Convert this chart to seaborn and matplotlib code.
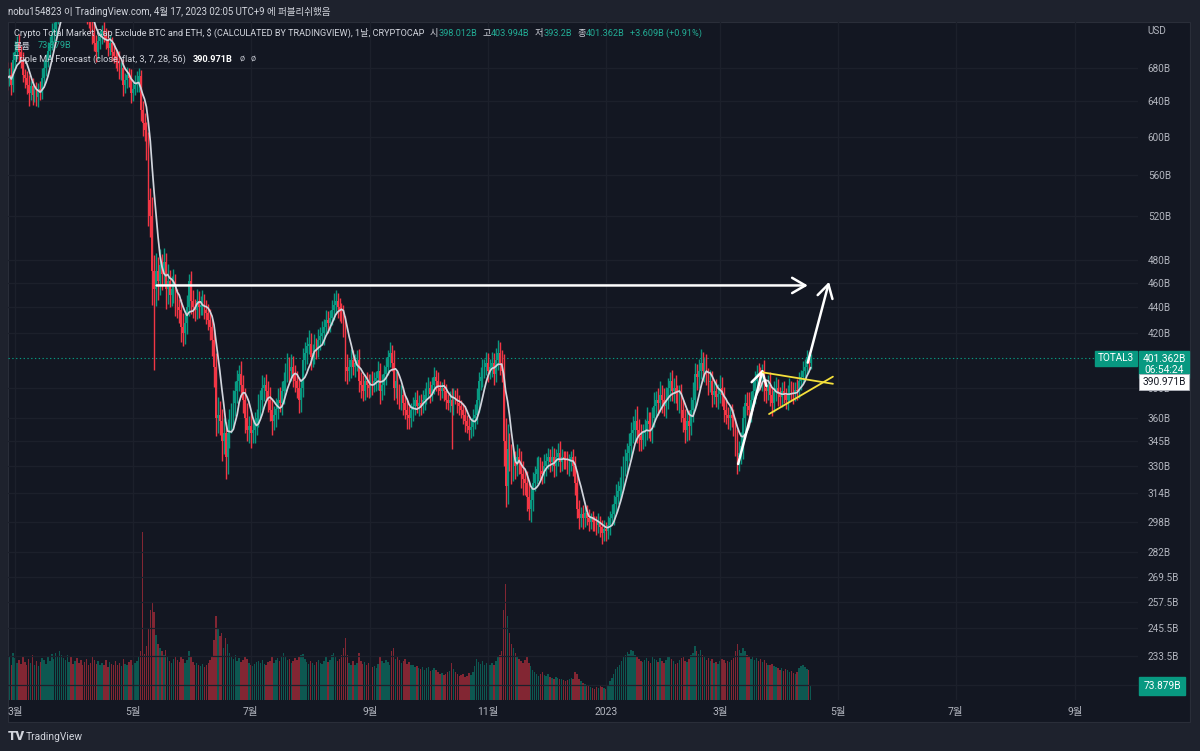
import numpy as np
import pandas as pd
import matplotlib
matplotlib.use("Agg")
import matplotlib.pyplot as plt
import matplotlib.dates as mdates
from matplotlib.patches import Rectangle
from matplotlib.ticker import FixedLocator, FixedFormatter, NullLocator
import seaborn as sns

sns.set_theme(style="dark")
plt.rcParams["font.family"] = ["Roboto", "Noto Sans CJK KR", "DejaVu Sans"]

W, H = 1200, 751
BG = "#131722"
FRAME = "#1e222d"
TXT = "#b2b5be"
UP = "#089981"
DN = "#f23645"
GRID = "#1c202b"

# ---------------- data (daily, from start_date) ----------------
start_date = "2022-02-25"
first_open = 676.0
close = [
    668, 672, 660, 690, 700, 712, 700, 690, 672, 668,
    660, 650, 658, 648, 652, 645, 655, 650, 668, 680,
    690, 702, 712, 725, 730, 745, 752, 765, 780, 790,
    795, 805, 812, 808, 800, 810, 798, 785, 770, 760,
    755, 748, 742, 738, 725, 712, 700, 715, 720, 728,
    722, 716, 705, 712, 700, 695, 690, 688, 675, 680,
    660, 665, 672, 668, 650, 655, 660, 662, 670, 630,
    615, 608, 590, 535, 520, 470, 455, 470, 462, 475,
    468, 478, 455, 462, 450, 455, 460, 445, 440, 438,
    425, 420, 428, 440, 462, 445, 440, 438, 445, 440,
    442, 445, 438, 436, 430, 425, 415, 395, 360, 362,
    358, 345, 350, 335, 350, 358, 360, 370, 378, 385,
    390, 382, 372, 360, 352, 355, 350, 352, 356, 360,
    368, 372, 380, 382, 378, 372, 365, 358, 362, 366,
    372, 370, 378, 385, 390, 395, 392, 395, 390, 385,
    380, 372, 380, 400, 405, 410, 412, 402, 405, 410,
    408, 415, 418, 420, 425, 430, 428, 432, 438, 442,
    445, 440, 438, 435, 425, 395, 392, 395, 400, 395,
    398, 400, 385, 382, 378, 385, 382, 380, 385, 383,
    385, 387, 392, 378, 382, 390, 395, 402, 405, 398,
    380, 385, 378, 372, 375, 370, 365, 362, 360, 365,
    368, 372, 368, 370, 368, 372, 375, 378, 380, 376,
    382, 388, 385, 380, 378, 380, 378, 372, 370, 372,
    368, 375, 374, 370, 368, 365, 362, 358, 355, 352,
    354, 360, 362, 372, 385, 388, 392, 395, 398, 392,
    395, 398, 390, 400, 405, 398, 392, 345, 318, 340,
    335, 328, 332, 330, 335, 332, 325, 322, 320, 312,
    305, 310, 320, 325, 328, 330, 327, 325, 330, 333,
    335, 332, 335, 330, 335, 338, 332, 335, 334, 333,
    330, 332, 335, 330, 320, 305, 300, 302, 300, 303,
    300, 298, 300, 298, 297, 296, 298, 295, 292, 294,
    293, 296, 300, 302, 308, 312, 315, 318, 322, 330,
    333, 338, 342, 350, 352, 358, 352, 348, 346, 350,
    352, 358, 356, 352, 360, 368, 372, 370, 375, 372,
    368, 372, 380, 385, 378, 380, 376, 372, 375, 365,
    360, 352, 358, 355, 365, 372, 390, 388, 392, 398,
    392, 395, 388, 384, 385, 375, 378, 374, 376, 380,
    375, 365, 362, 360, 362, 360, 355, 345, 335, 338,
    342, 360, 370, 368, 365, 372, 378, 385, 390, 388,
    385, 392, 380, 378, 382, 375, 370, 378, 380, 376,
    374, 378, 375, 372, 376, 380, 378, 376, 379, 378,
    385, 388, 392, 395, 402, 398.012, 401.362,
]
upper_wick = [
    12, 8, 15, 10, 14, 9, 12, 8, 10, 7,
    9, 12, 6, 10, 8, 11, 7, 9, 12, 10,
    8, 11, 9, 13, 10, 12, 8, 14, 10, 12,
    10, 12, 9, 14, 11, 8, 12, 10, 9, 13,
    10, 8, 12, 9, 11, 14, 10, 12, 9, 8,
    11, 9, 13, 10, 8, 12, 9, 10, 14, 8,
    12, 9, 10, 8, 11, 9, 12, 14, 10, 8,
    10, 12, 9, 15, 12, 18, 14, 16, 12, 14,
    10, 12, 8, 14, 9, 11, 12, 8, 10, 7,
    9, 11, 8, 10, 6, 8, 9, 7, 10, 8,
    7, 9, 6, 8, 7, 9, 6, 8, 10, 12,
    9, 8, 10, 7, 9, 8, 10, 9, 7, 8,
    6, 9, 7, 8, 10, 6, 9, 7, 8, 6,
    8, 7, 9, 6, 8, 7, 9, 8, 6, 7,
    8, 9, 7, 6, 8, 10, 7, 9, 8, 6,
    7, 8, 6, 9, 8, 7, 10, 8, 7, 9,
    6, 8, 7, 9, 6, 8, 7, 6, 8, 10,
    9, 7, 8, 6, 7, 8, 9, 6, 8, 7,
    6, 7, 8, 6, 7, 5, 6, 8, 5, 7,
    6, 5, 7, 6, 8, 6, 7, 5, 8, 6,
    9, 7, 6, 5, 7, 6, 5, 7, 6, 5,
    6, 5, 7, 5, 6, 7, 5, 6, 8, 5,
    6, 7, 5, 6, 5, 4, 6, 5, 4, 6,
    8, 5, 4, 6, 5, 4, 5, 6, 4, 5,
    5, 6, 7, 8, 6, 7, 9, 6, 8, 7,
    6, 8, 7, 9, 10, 8, 9, 12, 15, 16,
    10, 8, 9, 7, 8, 6, 7, 8, 6, 7,
    8, 7, 6, 5, 7, 6, 5, 6, 7, 5,
    6, 5, 7, 6, 5, 6, 7, 5, 4, 5,
    6, 5, 4, 5, 6, 7, 5, 4, 5, 4,
    4, 5, 3, 4, 3, 4, 5, 3, 4, 5,
    4, 5, 4, 6, 5, 7, 6, 5, 8, 6,
    7, 6, 8, 7, 9, 8, 10, 7, 8, 6,
    7, 9, 6, 8, 7, 9, 6, 8, 10, 7,
    8, 9, 7, 6, 8, 7, 9, 6, 7, 8,
    7, 6, 8, 7, 9, 12, 8, 7, 9, 10,
    8, 7, 9, 6, 8, 7, 6, 8, 7, 9,
    8, 6, 7, 5, 6, 7, 6, 5, 8, 7,
    9, 8, 6, 7, 9, 6, 8, 7, 6, 8,
    7, 5, 8, 6, 7, 9, 6, 7, 8, 6,
    5, 6, 7, 5, 6, 7, 5, 6, 5, 7,
    6, 5, 7, 6, 5, 4, 2.632,
]
lower_wick = [
    14, 10, 12, 9, 11, 8, 13, 10, 9, 12,
    11, 15, 8, 12, 9, 10, 11, 8, 7, 9,
    10, 8, 11, 9, 12, 10, 8, 11, 9, 10,
    12, 9, 11, 8, 10, 12, 9, 11, 10, 8,
    9, 11, 10, 12, 14, 10, 12, 9, 11, 10,
    9, 12, 10, 8, 11, 9, 10, 12, 8, 10,
    14, 10, 9, 11, 12, 10, 8, 9, 11, 12,
    14, 12, 15, 25, 20, 28, 62, 14, 16, 12,
    14, 10, 16, 12, 10, 9, 11, 12, 8, 10,
    12, 10, 8, 9, 7, 10, 8, 9, 7, 8,
    6, 8, 7, 9, 8, 10, 12, 14, 12, 10,
    9, 12, 8, 13, 10, 9, 8, 7, 9, 8,
    7, 8, 9, 10, 7, 8, 9, 6, 8, 7,
    6, 8, 7, 9, 6, 8, 7, 9, 6, 8,
    7, 6, 8, 9, 7, 6, 8, 7, 9, 8,
    7, 9, 8, 6, 7, 8, 6, 9, 7, 8,
    7, 6, 8, 7, 9, 6, 8, 7, 6, 8,
    7, 8, 9, 7, 8, 10, 9, 7, 8, 6,
    7, 6, 8, 9, 7, 6, 8, 7, 6, 8,
    6, 7, 8, 9, 6, 7, 8, 6, 7, 6,
    8, 7, 9, 6, 7, 8, 6, 9, 7, 6,
    7, 6, 5, 7, 6, 5, 7, 6, 5, 6,
    5, 6, 7, 5, 6, 5, 7, 6, 5, 6,
    28, 6, 5, 7, 6, 5, 6, 7, 5, 6,
    5, 6, 7, 6, 8, 6, 7, 5, 6, 8,
    6, 7, 8, 6, 7, 9, 8, 15, 12, 10,
    8, 9, 7, 8, 6, 7, 8, 9, 7, 8,
    6, 7, 6, 5, 6, 7, 5, 6, 5, 6,
    5, 6, 5, 7, 6, 5, 6, 5, 6, 5,
    5, 6, 5, 6, 7, 5, 6, 5, 6, 5,
    4, 5, 4, 5, 4, 5, 4, 5, 6, 4,
    5, 4, 5, 4, 6, 5, 4, 6, 5, 6,
    6, 7, 5, 8, 6, 7, 8, 9, 7, 6,
    8, 6, 9, 7, 8, 6, 7, 8, 6, 9,
    7, 8, 6, 9, 7, 8, 6, 7, 9, 8,
    9, 8, 7, 9, 6, 8, 7, 9, 8, 6,
    7, 8, 6, 9, 7, 8, 6, 7, 8, 6,
    7, 8, 6, 7, 8, 6, 7, 9, 10, 8,
    7, 8, 9, 6, 7, 8, 6, 9, 7, 8,
    6, 7, 9, 8, 6, 7, 9, 6, 7, 8,
    6, 7, 5, 6, 7, 5, 6, 7, 5, 6,
    5, 6, 5, 7, 6, 5, 4.812,
]
volume = [
    210, 235, 190, 250, 225, 200, 215, 195, 230, 205,
    185, 220, 200, 240, 190, 210, 180, 205, 225, 215,
    195, 230, 210, 245, 220, 250, 235, 260, 240, 225,
    215, 240, 205, 230, 195, 210, 225, 200, 215, 190,
    205, 220, 185, 200, 230, 215, 195, 210, 185, 200,
    190, 215, 175, 205, 195, 185, 210, 190, 200, 180,
    220, 195, 185, 205, 215, 190, 200, 210, 230, 260,
    900, 245, 290, 380, 480, 520, 470, 350, 300, 280,
    260, 240, 270, 230, 210, 200, 220, 230, 215, 205,
    235, 220, 200, 215, 260, 230, 205, 190, 200, 185,
    180, 195, 175, 190, 200, 215, 230, 320, 450, 380,
    340, 360, 280, 330, 300, 250, 230, 220, 240, 210,
    225, 205, 215, 230, 220, 200, 190, 180, 195, 205,
    210, 200, 215, 195, 185, 205, 210, 230, 200, 215,
    225, 210, 235, 250, 230, 215, 220, 200, 210, 225,
    215, 230, 240, 245, 220, 205, 195, 210, 200, 190,
    205, 215, 200, 195, 210, 230, 205, 215, 240, 250,
    235, 210, 220, 240, 280, 330, 240, 200, 190, 210,
    185, 200, 250, 210, 195, 205, 190, 200, 185, 175,
    180, 170, 195, 230, 210, 200, 215, 205, 190, 260,
    280, 220, 230, 215, 200, 210, 220, 195, 205, 190,
    185, 175, 180, 170, 165, 175, 160, 170, 175, 155,
    160, 170, 160, 150, 140, 145, 135, 140, 150, 155,
    200, 165, 150, 140, 130, 135, 140, 125, 130, 145,
    135, 150, 180, 220, 205, 195, 210, 190, 200, 185,
    185, 200, 190, 210, 230, 240, 260, 480, 620, 450,
    360, 300, 280, 250, 230, 220, 210, 200, 215, 230,
    200, 180, 160, 150, 140, 130, 140, 150, 135, 130,
    140, 125, 120, 115, 125, 120, 115, 110, 105, 100,
    105, 115, 120, 115, 150, 140, 115, 100, 90, 85,
    80, 75, 70, 65, 60, 70, 65, 75, 70, 65,
    60, 80, 100, 120, 140, 165, 175, 190, 210, 230,
    240, 255, 245, 270, 260, 240, 230, 220, 210, 205,
    215, 225, 210, 200, 230, 220, 215, 205, 225, 210,
    200, 215, 230, 235, 220, 210, 195, 200, 215, 225,
    230, 210, 205, 220, 240, 250, 290, 260, 245, 270,
    240, 230, 215, 225, 210, 220, 200, 205, 195, 210,
    220, 215, 200, 210, 205, 215, 225, 260, 300, 270,
    250, 280, 260, 240, 235, 220, 230, 215, 225, 210,
    220, 205, 215, 200, 190, 185, 195, 180, 175, 170,
    160, 170, 155, 165, 160, 150, 155, 145, 140, 150,
    170, 180, 190, 175, 165, 160, 73.879,
]

ma_value_label = 390.971
price_ticks = [221.5, 233.5, 245.5, 257.5, 269.5, 282, 298, 314, 330, 345,
               360, 380, 420, 440, 460, 480, 520, 560, 600, 640, 680]
price_tick_labels = ["221.5B", "233.5B", "245.5B", "257.5B", "269.5B", "282B",
                     "298B", "314B", "330B", "345B", "360B", "380B", "420B",
                     "440B", "460B", "480B", "520B", "560B", "600B", "640B", "680B"]
month_ticks = ["2022-03-01", "2022-05-01", "2022-07-01", "2022-09-01", "2022-11-01",
               "2023-01-01", "2023-03-01", "2023-05-01", "2023-07-01", "2023-09-01"]
month_labels = ["3월", "5월", "7월", "9월", "11월", "2023", "3월", "5월", "7월", "9월"]

# drawings (date, value)
h_arrow = [("2022-05-13 06:00", 458.0), ("2023-04-15 12:00", 458.0)]
up_arrow = [("2023-04-15 12:00", 398.0), ("2023-04-26 12:00", 461.0)]
small_arrow = [("2023-03-10 10:00", 331.0), ("2023-03-23 07:00", 393.5)]
tri_upper = [("2023-03-23 07:00", 391.0), ("2023-04-28 12:00", 383.0)]
tri_lower = [("2023-03-26 10:00", 362.5), ("2023-04-28 12:00", 388.0)]

# ---------------- frame ----------------
dates = pd.date_range(start_date, periods=len(close), freq="D")
df = pd.DataFrame({"date": dates, "close": close,
                   "uw": upper_wick, "lw": lower_wick, "vol": volume})
df["open"] = [first_open] + close[:-1]
df["high"] = df[["open", "close"]].max(axis=1) + df["uw"]
df["low"] = df[["open", "close"]].min(axis=1) - df["lw"]
df["up"] = df["close"] >= df["open"]
df["ma"] = df["close"].rolling(7, min_periods=1).mean()
xnum = mdates.date2num(df["date"])

fig = plt.figure(figsize=(W / 100, H / 100), dpi=100, facecolor=FRAME)
fig.patches.append(Rectangle((8 / W, 1 - 722 / H), 1182 / W, 700 / H,
                             transform=fig.transFigure, facecolor=BG,
                             edgecolor="#2a2e39", lw=0.8, zorder=0))

pos = [8 / W, 1 - 700 / H, 1130 / W, 678 / H]
ax = fig.add_axes(pos)
ax_v = ax.twinx()
ax.set_zorder(2)
ax.patch.set_visible(False)
ax_v.set_zorder(1)
ax_v.patch.set_facecolor(BG)

x0 = mdates.date2num(pd.Timestamp(start_date))
ax.set_xlim(x0 + 0.3, x0 + 585.5)
ax.set_yscale("log")
ax.set_ylim(215.5, 739.5)

# volume
vcol = [UP if u else DN for u in df["up"]]
ax_v.bar(xnum, df["vol"], width=0.75, color=vcol, alpha=0.5, linewidth=0)
ax_v.set_ylim(0, 3630)
ax_v.set_yticks([])
for s in ax_v.spines.values():
    s.set_visible(False)

# candles
ccol = np.array(vcol)
ax.vlines(xnum, df["low"], df["high"], colors=ccol, lw=1.0, zorder=3)
ax.bar(xnum, (df["close"] - df["open"]).abs().clip(lower=0.6),
       bottom=df[["open", "close"]].min(axis=1), width=0.85,
       color=ccol, linewidth=0, zorder=3)

# MA line
sns.lineplot(x=df["date"], y=df["ma"], ax=ax, color="#d1d4dc", lw=1.25,
             zorder=4, legend=False)
ax.set_xlabel("")
ax.set_ylabel("")

# last price line
ax.axhline(close[-1], color=UP, lw=0.8, ls=(0, (1.2, 2.2)), zorder=2)

# drawings
def arrow(pts, color="white"):
    (d0, v0), (d1, v1) = pts
    ax.annotate("", xy=(mdates.date2num(pd.Timestamp(d1)), v1),
                xytext=(mdates.date2num(pd.Timestamp(d0)), v0),
                arrowprops=dict(arrowstyle="->,head_length=0.95,head_width=0.55",
                                color=color, lw=1.8, shrinkA=0, shrinkB=0,
                                mutation_scale=10), zorder=6)

arrow(h_arrow)
arrow(up_arrow)
arrow(small_arrow)
for seg in (tri_upper, tri_lower):
    ax.plot([pd.Timestamp(seg[0][0]), pd.Timestamp(seg[1][0])],
            [seg[0][1], seg[1][1]], color="#f5e03b", lw=1.3, zorder=6)

# axes styling
for s in ax.spines.values():
    s.set_visible(False)
ax.yaxis.tick_right()
ax.yaxis.set_major_locator(FixedLocator(price_ticks))
ax.yaxis.set_major_formatter(FixedFormatter(price_tick_labels))
ax.yaxis.set_minor_locator(NullLocator())
ax.set_xticks(mdates.date2num(pd.to_datetime(month_ticks)))
ax.set_xticklabels(month_labels)
ax.tick_params(axis="y", length=0, pad=7, labelsize=7.2, labelcolor=TXT)
ax.tick_params(axis="x", length=0, pad=5, labelsize=7.5, labelcolor=TXT)
ax.grid(True, color=GRID, lw=0.9)
ax_v.grid(False)

# right-side labels (drawn on the top axes so they cover tick labels)
yt = ax.get_yaxis_transform()
ax.text(0.9805, close[-1], "TOTAL3", transform=yt, ha="center", va="center",
        fontsize=7.2, color="white", zorder=8,
        bbox=dict(boxstyle="square,pad=0.25", fc=UP, ec=UP))
ax.annotate("401.362B\n06:54:24", xy=(1.0230, close[-1]), xycoords=yt,
            xytext=(0, -4.6), textcoords="offset points", ha="center", va="center",
            fontsize=7.3, color="white", linespacing=1.05, annotation_clip=False,
            bbox=dict(boxstyle="square,pad=0.3", fc=UP, ec=UP), zorder=8)
ax.annotate(f"{ma_value_label:.3f}B", xy=(1.0230, close[-1]), xycoords=yt,
            xytext=(0, -17.3), textcoords="offset points", ha="center", va="center",
            fontsize=7.3, color="#131722", annotation_clip=False,
            bbox=dict(boxstyle="square,pad=0.3", fc="white", ec="#b2b5be", lw=0.6),
            zorder=8)
ax.annotate(f"{volume[-1]:.3f}B", xy=(1.0212, volume[-1]),
            xycoords=ax_v.get_yaxis_transform(), ha="center", va="center",
            fontsize=7.3, color="white", annotation_clip=False,
            bbox=dict(boxstyle="square,pad=0.4", fc=UP, ec=UP), zorder=8)
fig.text(1147 / W, 1 - 31 / H, "USD", fontsize=7.2, color=TXT, ha="left", va="center")

# header texts
fig.text(8 / W, 1 - 12 / H,
         "nobu154823 이 TradingView.com, 4월 17, 2023 02:05 UTC+9 에 퍼블리쉬했음",
         fontsize=6.9, color="#d1d4dc", ha="left", va="center")


def chain_text(x, y, parts, size=6.6):
    prev = fig.text(x, y, parts[0][0], color=parts[0][1], fontsize=size,
                    ha="left", va="center", zorder=9)
    for p in parts[1:]:
        prev = ax.annotate(
            p[0], xy=(1, 0), xycoords=prev, xytext=(p[2] if len(p) > 2 else 3, 0),
            textcoords="offset points", ha="left", va="bottom", color=p[1],
            fontsize=size, annotation_clip=False,
            fontweight=p[3] if len(p) > 3 else "normal", zorder=9)
    return prev


VAL = "#22ab94"
chain_text(14 / W, 1 - 33 / H, [
    ("Crypto Total Market Cap Exclude BTC and ETH, $ (CALCULATED BY TRADINGVIEW), 1날, CRYPTOCAP", "#d1d4dc"),
    ("시", "#d1d4dc", 4), ("398.012B", VAL, 0),
    ("고", "#d1d4dc", 4), ("403.994B", VAL, 0),
    ("저", "#d1d4dc", 4), ("393.2B", VAL, 0),
    ("종", "#d1d4dc", 4), ("401.362B", VAL, 0),
    ("+3.609B (+0.91%)", VAL, 4),
])
chain_text(14 / W, 1 - 46 / H, [("볼륨", "#d1d4dc"), ("73.879B", VAL, 5)])
chain_text(14 / W, 1 - 59 / H, [
    ("Triple MA Forecast (close, flat, 3, 7, 28, 56)", "#d1d4dc"),
    ("390.971B", "white", 5, "bold"), ("ø", TXT, 5), ("ø", TXT, 4),
])

# footer
fig.text(8 / W, 1 - 737 / H, "TV", fontsize=9.5, fontweight="heavy",
         color="#d1d4dc", ha="left", va="center")
fig.text(26 / W, 1 - 737 / H, "TradingView", fontsize=7.4, color="#d1d4dc",
         ha="left", va="center")

fig.savefig("out.png", dpi=100, facecolor=FRAME)
